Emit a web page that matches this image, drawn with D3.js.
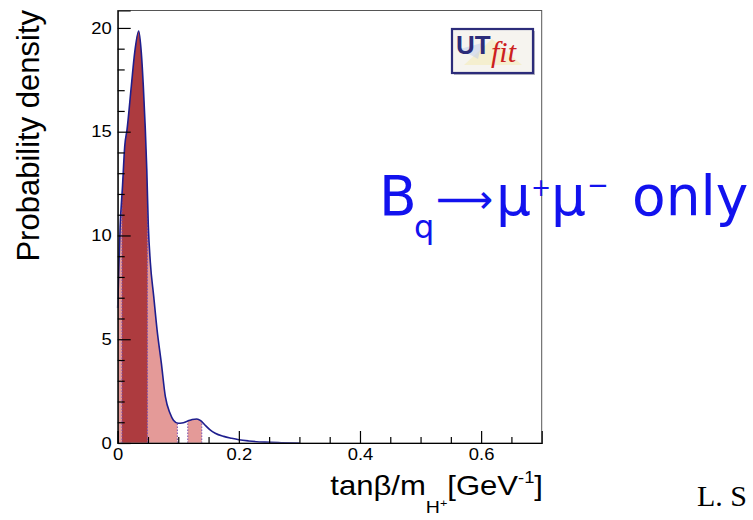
<!DOCTYPE html>
<html>
<head>
<meta charset="utf-8">
<script src="https://cdn.jsdelivr.net/npm/d3@7/dist/d3.min.js"></script>
<style>
  html, body { margin: 0; padding: 0; background: #ffffff; }
  svg { display: block; }
</style>
</head>
<body>
<svg id="chart" width="753" height="520"></svg>
<script>
// Posterior density of tanβ/m_H+ from B_q → μ+μ− alone
const densityX = [0, 0.002, 0.004, 0.008, 0.0116, 0.0154, 0.0225, 0.028, 0.0347, 0.039,
                  0.0423, 0.0456, 0.048, 0.0505, 0.0539, 0.0595, 0.065, 0.072, 0.0787, 0.0864,
                  0.092, 0.100, 0.106, 0.115, 0.123, 0.1306, 0.137, 0.144, 0.152, 0.161,
                  0.175, 0.188, 0.200, 0.216, 0.243, 0.270, 0.300];
const densityY = [6.5, 8.6, 10.4, 12.4, 14.3, 15.1, 17.2, 18.8, 19.85, 18.8,
                  17.2, 15.1, 13.2, 10.5, 8.7, 7.05, 5.45, 3.86, 2.23, 1.43,
                  1.1, 0.95, 0.96, 1.05, 1.13, 1.16, 1.08, 0.87, 0.65, 0.47,
                  0.32, 0.23, 0.16, 0.10, 0.04, 0.015, 0.0];

// Probability intervals (68% dark, 95% light)
const interval68 = [[0.0071, 0.049]];
const interval95 = [[0, 0.0985], [0.1157, 0.1388]];

// Axis ticks
const xMajorTicks = [0, 0.2, 0.4, 0.6];
const xTickLabels = ["0", "0.2", "0.4", "0.6"];
const xMinorTicks = [0.05, 0.1, 0.15, 0.25, 0.3, 0.35, 0.45, 0.5, 0.55, 0.65];
const yMajorTicks = [0, 5, 10, 15, 20];
const yTickLabels = ["0", "5", "10", "15", "20"];
const yMinorTicks = [1,2,3,4,6,7,8,9,11,12,13,14,16,17,18,19];

const points = densityX.map((v, i) => ({ x: v, y: densityY[i] }));

const svg = d3.select("#chart");
const plotL = 117.7, plotR = 541.7, plotT = 10.5, plotB = 443;

const x = d3.scaleLinear().domain([0, 0.7]).range([plotL, plotR]);
const y = d3.scaleLinear().domain([0, 20.84]).range([plotB, plotT]);

const defs = svg.append("defs");

const area = d3.area()
  .x(d => x(d.x)).y0(y(0)).y1(d => y(d.y))
  .curve(d3.curveMonotoneX);
const line = d3.line()
  .x(d => x(d.x)).y(d => y(d.y))
  .curve(d3.curveMonotoneX);

// clip paths: interval bands and the region under the curve
function bandClip(id, intervals) {
  const cp = defs.append("clipPath").attr("id", id);
  cp.selectAll("rect").data(intervals).join("rect")
    .attr("x", d => x(d[0])).attr("width", d => x(d[1]) - x(d[0]))
    .attr("y", plotT).attr("height", plotB - plotT);
}
bandClip("clip95", interval95);
bandClip("clip68", interval68);
defs.append("clipPath").attr("id", "clipUnder")
  .append("path").attr("d", area(points));

// filled intervals
svg.append("path").attr("d", area(points))
  .attr("fill", "#e49a98").attr("clip-path", "url(#clip95)");
svg.append("path").attr("d", area(points))
  .attr("fill", "#ad3b3f").attr("clip-path", "url(#clip68)");

// dotted interval boundaries
const edges = [];
interval95.forEach(d => { if (d[0] > 0) edges.push(d[0]); edges.push(d[1]); });
interval68.forEach(d => { edges.push(d[0]); edges.push(d[1]); });
svg.append("g").attr("clip-path", "url(#clipUnder)")
  .selectAll("line").data(edges).join("line")
  .attr("x1", d => x(d)).attr("x2", d => x(d))
  .attr("y1", y(0)).attr("y2", plotT)
  .attr("stroke", "#7a4fb0").attr("stroke-width", 1)
  .attr("stroke-dasharray", "1.5,1.5");

// density curve
svg.append("path").attr("d", line(points))
  .attr("fill", "none").attr("stroke", "#1e1e8e").attr("stroke-width", 1.6);

// frame
svg.append("rect").attr("x", plotL).attr("y", plotT)
  .attr("width", plotR - plotL).attr("height", plotB - plotT)
  .attr("fill", "none").attr("stroke", "#555").attr("stroke-width", 1);

const tickFont = "'Liberation Sans', Arial, Helvetica, sans-serif";

// y axis
const yAxis = svg.append("g").attr("transform", `translate(${plotL},0)`)
  .call(d3.axisLeft(y).tickValues(yMajorTicks).tickSize(-13).tickPadding(6)
        .tickFormat((d, i) => yTickLabels[i]));
svg.append("g").attr("transform", `translate(${plotL},0)`)
  .call(d3.axisLeft(y).tickValues(yMinorTicks).tickSize(-7).tickFormat(""))
  .call(g => g.select(".domain").remove());

// x axis
const xAxis = svg.append("g").attr("transform", `translate(0,${plotB})`)
  .call(d3.axisBottom(x).tickValues(xMajorTicks).tickSize(-12).tickPadding(6)
        .tickFormat((d, i) => xTickLabels[i]));
svg.append("g").attr("transform", `translate(0,${plotB})`)
  .call(d3.axisBottom(x).tickValues(xMinorTicks).tickSize(-6).tickFormat(""))
  .call(g => g.select(".domain").remove());

svg.selectAll(".tick line").attr("stroke", "#000").attr("stroke-width", 1.2);
svg.selectAll(".domain").attr("stroke", "#000").attr("stroke-width", 1.2);
[yAxis, xAxis].forEach(a => a.selectAll("text")
  .attr("font-family", tickFont).attr("font-size", 16).attr("fill", "#000"));
yAxis.selectAll("text").attr("transform", "scale(1.15,1)").attr("x", -6 / 1.15);
xAxis.selectAll("text").attr("transform", "scale(1.15,1)");

// axis titles
svg.append("text")
  .attr("transform", `translate(39,10) rotate(-90)`)
  .attr("text-anchor", "end")
  .attr("font-family", tickFont).attr("font-size", 31).attr("fill", "#000")
  .text("Probability density");

const xt = svg.append("g").attr("transform", "translate(543,495) scale(1.15,1)")
  .append("text").attr("text-anchor", "end")
  .attr("font-family", tickFont).attr("font-size", 27).attr("fill", "#000");
xt.append("tspan").text("tanβ/m");
xt.append("tspan").attr("font-size", 17).attr("dy", 18).text("H");
xt.append("tspan").attr("font-size", 11).attr("dy", -6).text("+");
xt.append("tspan").attr("font-size", 27).attr("dy", -12).text("[GeV");
xt.append("tspan").attr("font-size", 16).attr("dy", -12).text("-1");
xt.append("tspan").attr("font-size", 27).attr("dy", 12).text("]");

// UTfit logo
const logo = svg.append("g").attr("transform", "translate(452,29)");
logo.append("rect").attr("x", 2).attr("y", 2).attr("width", 81).attr("height", 44)
  .attr("fill", "#b8b8c4");
logo.append("rect").attr("width", 81).attr("height", 44)
  .attr("fill", "#f6f4ef").attr("stroke", "#2c2c7a").attr("stroke-width", 2.2);
logo.append("path").attr("d", "M12,36 L70,36 L40,10 Z")
  .attr("fill", "#f3e9a8").attr("opacity", 0.45);
logo.append("path").attr("d", "M8,20 L30,14 L26,30 Z")
  .attr("fill", "#b9c8ea").attr("opacity", 0.45);
logo.append("text").attr("x", 4).attr("y", 25)
  .attr("font-family", tickFont).attr("font-weight", "bold").attr("font-size", 26)
  .attr("fill", "#2c2c7a").text("UT");
logo.append("text").attr("x", 39).attr("y", 33)
  .attr("font-family", "'Liberation Serif', 'Times New Roman', serif")
  .attr("font-style", "italic").attr("font-size", 30)
  .attr("fill", "#cc2020").text("fit");

// process label
const blue = "#1212ee";
const big = svg.append("text").attr("y", 215)
  .attr("font-family", "'DejaVu Sans', sans-serif").attr("fill", blue);
big.append("tspan").attr("x", 379).attr("font-size", 55).text("B");
big.append("tspan").attr("x", 414).attr("y", 238).attr("font-size", 32).text("q");
big.append("tspan").attr("x", 436).attr("y", 213).attr("font-size", 40).text("⟶");
big.append("tspan").attr("x", 496).attr("y", 215).attr("font-size", 55).text("μ");
big.append("tspan").attr("x", 531).attr("y", 196).attr("font-size", 24).text("+");
big.append("tspan").attr("x", 551).attr("y", 215).attr("font-size", 55).text("μ");
big.append("tspan").attr("x", 587).attr("y", 194).attr("font-size", 26).text("−");
big.append("tspan").attr("x", 632).attr("y", 215).attr("font-size", 55).text("only");

// author credit
svg.append("text").attr("x", 697).attr("y", 506)
  .attr("font-family", "'Liberation Serif', 'Times New Roman', serif")
  .attr("font-size", 30).attr("fill", "#000").text("L. S");
</script>
</body>
</html>
